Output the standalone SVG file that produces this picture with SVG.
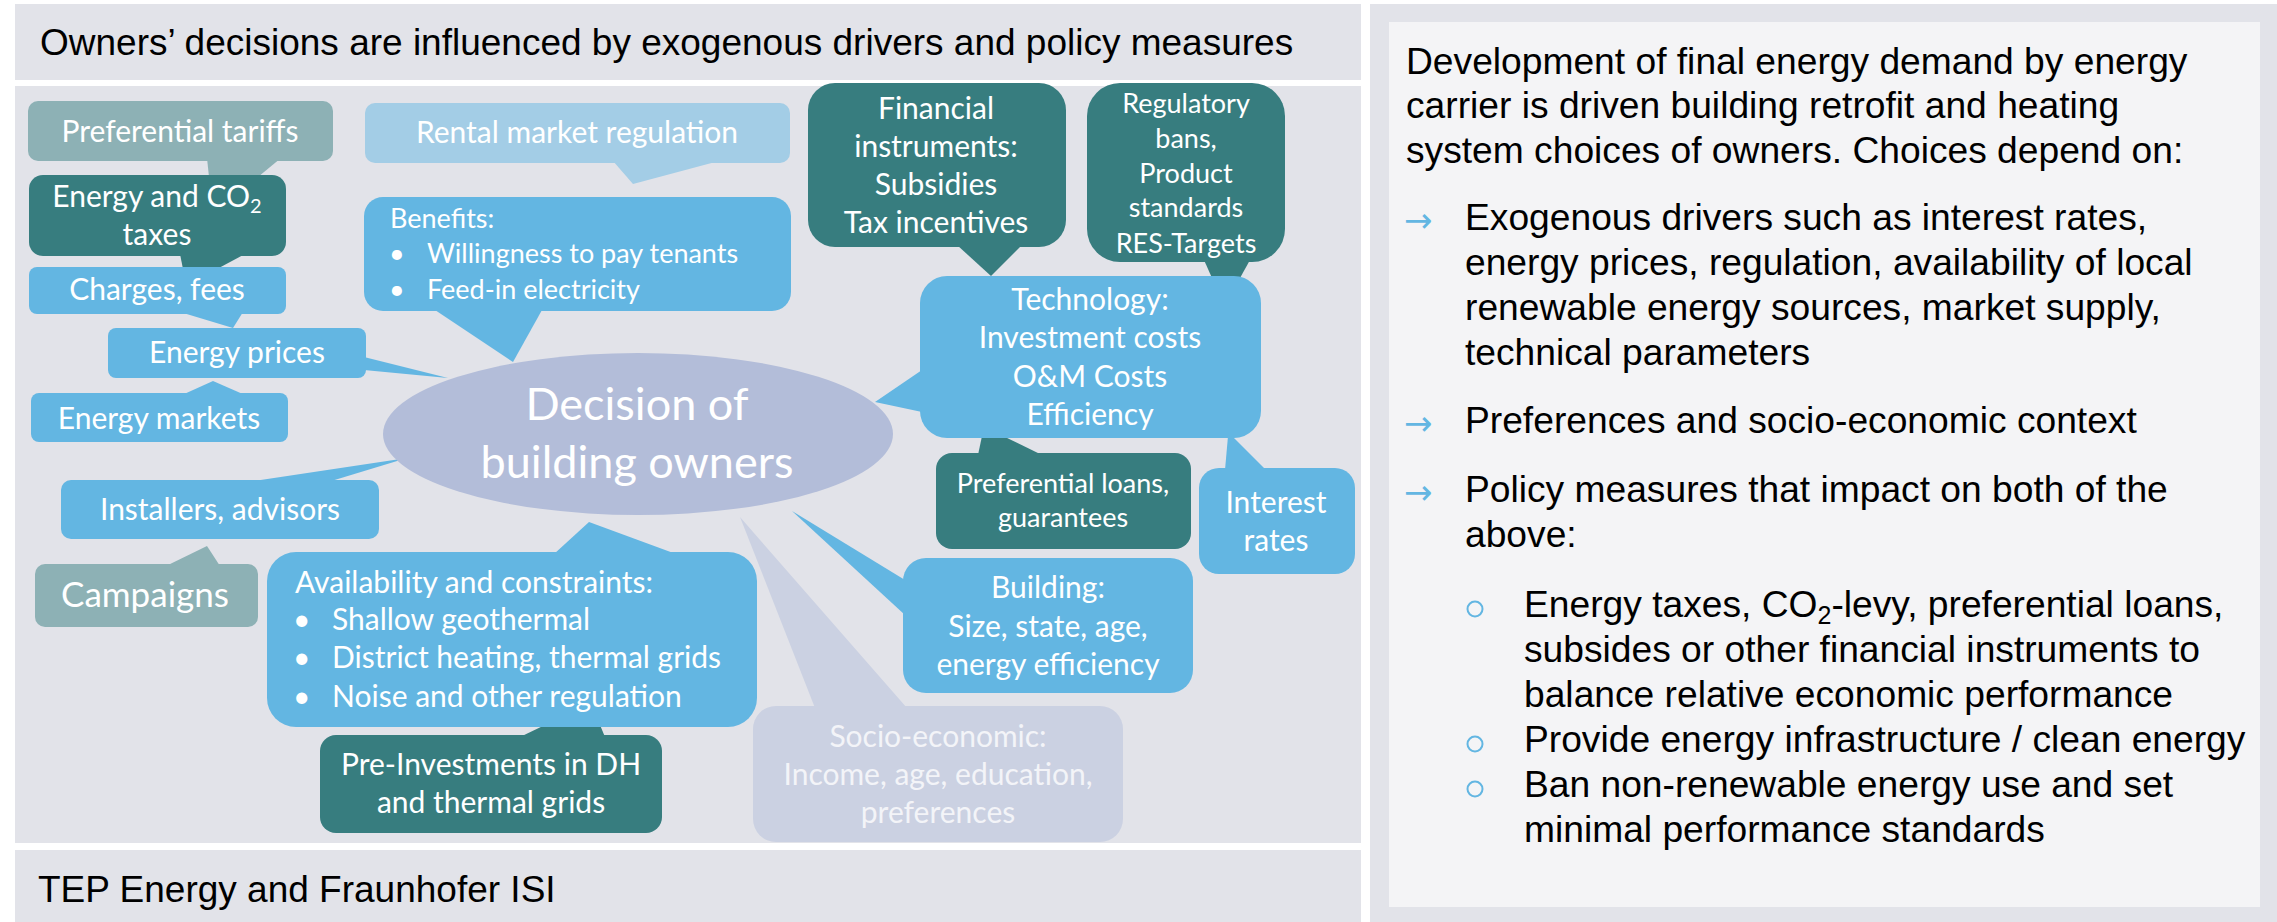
<svg xmlns="http://www.w3.org/2000/svg" width="2277" height="922" viewBox="0 0 2277 922">
<style>
.bg{fill:#E2E3E9}
.lb{fill:#63B6E2}
.dt{fill:#377D7F}
.gt{fill:#8DB1B5}
.rb{fill:#A3CDE6}
.so{fill:#CBD1E2}
.el{fill:#B3BDD9}
.bt{font-family:Lato,'Noto Sans',sans-serif;font-size:30px;fill:#FFFFFF;text-anchor:middle}
.bs{font-family:Lato,'Noto Sans',sans-serif;font-size:27px;fill:#FFFFFF;text-anchor:middle}
.big{font-family:Lato,'Noto Sans',sans-serif;font-size:45px;fill:#FFFFFF;text-anchor:middle}
.cmp{font-family:Lato,'Noto Sans',sans-serif;font-size:35px;fill:#FFFFFF;text-anchor:middle}
.bl{font-family:Lato,'Noto Sans',sans-serif;font-size:30px;fill:#FFFFFF}
.bls{font-family:Lato,'Noto Sans',sans-serif;font-size:27px;fill:#FFFFFF}
.st{font-family:Lato,'Noto Sans',sans-serif;font-size:30px;fill:#F3F4F8;text-anchor:middle}
.ar{font-family:'Liberation Sans',Arial,sans-serif;font-size:37px;fill:#000000}
.rp{font-family:'Liberation Sans',Arial,sans-serif;font-size:37.2px;fill:#000000}
.arw{font-family:'DejaVu Sans',sans-serif;font-size:34px;fill:#63B6E2}
.sb{fill:none;stroke:#63B6E2;stroke-width:2}
</style>
<rect x="0" y="0" width="2277" height="922" fill="#FFFFFF"/>
<g id="left-panel">
<rect class="bg" x="15" y="4" width="1346" height="76"/>
<text class="ar" x="40" y="55">Owners’ decisions are influenced by exogenous drivers and policy measures</text>
<rect class="bg" x="15" y="86" width="1346" height="757"/>
<rect class="bg" x="15" y="850" width="1346" height="72"/>
<text class="ar" x="38" y="902">TEP Energy and Fraunhofer ISI</text>
</g>
<g id="right-panel">
<rect class="bg" x="1370" y="4" width="907" height="918"/>
<rect x="1389" y="22" width="871" height="885" fill="#F4F4F6"/>
<text class="rp" x="1406" y="74">Development of final energy demand by energy</text>
<text class="rp" x="1406" y="118">carrier is driven building retrofit and heating</text>
<text class="rp" x="1406" y="163">system choices of owners. Choices depend on:</text>
<text class="arw" x="1404" y="232">→</text>
<text class="rp" x="1465" y="230">Exogenous drivers such as interest rates,</text>
<text class="rp" x="1465" y="275">energy prices, regulation, availability of local</text>
<text class="rp" x="1465" y="320">renewable energy sources, market supply,</text>
<text class="rp" x="1465" y="365">technical parameters</text>
<text class="arw" x="1404" y="435">→</text>
<text class="rp" x="1465" y="433">Preferences and socio-economic context</text>
<text class="arw" x="1404" y="504">→</text>
<text class="rp" x="1465" y="502">Policy measures that impact on both of the</text>
<text class="rp" x="1465" y="547">above:</text>
<circle class="sb" cx="1475" cy="609" r="7.5"/>
<text class="rp" x="1524" y="617">Energy taxes, CO<tspan font-size="25" dy="7">2</tspan><tspan dy="-7">-levy, preferential loans,</tspan></text>
<text class="rp" x="1524" y="662">subsides or other financial instruments to</text>
<text class="rp" x="1524" y="707">balance relative economic performance</text>
<circle class="sb" cx="1475" cy="744" r="7.5"/>
<text class="rp" x="1524" y="752">Provide energy infrastructure / clean energy</text>
<circle class="sb" cx="1475" cy="789" r="7.5"/>
<text class="rp" x="1524" y="797">Ban non-renewable energy use and set</text>
<text class="rp" x="1524" y="842">minimal performance standards</text>
</g>
<g id="connectors">
<polygon class="gt" points="207,158 281,158 258,177 209,177"/>
<polygon class="dt" points="180,254 245,254 217,269 183,269"/>
<polygon class="lb" points="180,312 243,312 233,328"/>
<polygon class="lb" points="182,395 213,381 245,395"/>
<polygon class="lb" points="364,357 448,378 364,370"/>
<polygon class="rb" points="613,161 633,184 719,161"/>
<polygon class="lb" points="435,310 513,362 542,310"/>
<polygon class="lb" points="247,482 407,458 328,482"/>
<polygon class="gt" points="166,566 207,546 220,566"/>
<polygon class="lb" points="554,554 589,522 676,554"/>
<polygon class="dt" points="520,737 545,725 600,725 605,737"/>
<polygon class="dt" points="957,245 991,276 1022,245"/>
<polygon class="dt" points="1204,260 1250,260 1240,278 1212,278"/>
<polygon class="lb" points="922,370 875,402 922,412"/>
<polygon class="dt" points="978,455 982,436 1003,436 1042,455"/>
<polygon class="lb" points="1225,470 1228,436 1232,436 1266,470"/>
<polygon class="lb" points="905,580 792,511 905,615"/>
<polygon class="so" points="815,708 740,517 907,708"/>
</g>
<g id="decision">
<ellipse class="el" cx="638" cy="434" rx="255" ry="81"/>
<text class="big" x="637" y="420">Decision of</text>
<text class="big" x="637" y="478">building owners</text>
</g>
<g id="preferential-tariffs">
<rect class="gt" x="28" y="101" width="305" height="60" rx="10"/>
<text class="bt" x="180" y="142">Preferential tariffs</text>
</g>
<g id="rental-market">
<rect class="rb" x="365" y="103" width="425" height="60" rx="10"/>
<text class="bt" x="577" y="143">Rental market regulation</text>
</g>
<g id="energy-co2-taxes">
<rect class="dt" x="29" y="175" width="257" height="81" rx="14"/>
<text class="bt" x="157" y="207">Energy and CO<tspan font-size="20" dy="6">2</tspan></text>
<text class="bt" x="157" y="245">taxes</text>
</g>
<g id="charges-fees">
<rect class="lb" x="29" y="267" width="257" height="47" rx="8"/>
<text class="bt" x="157" y="300">Charges, fees</text>
</g>
<g id="energy-prices">
<rect class="lb" x="108" y="328" width="258" height="50" rx="8"/>
<text class="bt" x="237" y="363">Energy prices</text>
</g>
<g id="energy-markets">
<rect class="lb" x="31" y="393" width="257" height="49" rx="8"/>
<text class="bt" x="159" y="429">Energy markets</text>
</g>
<g id="installers">
<rect class="lb" x="61" y="480" width="318" height="59" rx="10"/>
<text class="bt" x="220" y="520">Installers, advisors</text>
</g>
<g id="campaigns">
<rect class="gt" x="35" y="564" width="223" height="63" rx="10"/>
<text class="cmp" x="145" y="607">Campaigns</text>
</g>
<g id="availability">
<rect class="lb" x="267" y="552" width="490" height="175" rx="29"/>
<text class="bl" x="295" y="593">Availability and constraints:</text>
<text class="bl" x="293" y="630">•</text>
<text class="bl" x="332" y="630">Shallow geothermal</text>
<text class="bl" x="293" y="668">•</text>
<text class="bl" x="332" y="668">District heating, thermal grids</text>
<text class="bl" x="293" y="707">•</text>
<text class="bl" x="332" y="707">Noise and other regulation</text>
</g>
<g id="pre-investments">
<rect class="dt" x="320" y="735" width="342" height="98" rx="16"/>
<text class="bt" x="491" y="775">Pre-Investments in DH</text>
<text class="bt" x="491" y="813">and thermal grids</text>
</g>
<g id="benefits">
<rect class="lb" x="364" y="197" width="427" height="114" rx="19"/>
<text class="bls" x="390" y="228">Benefits:</text>
<text class="bls" x="389" y="263">•</text>
<text class="bls" x="427" y="263">Willingness to pay tenants</text>
<text class="bls" x="389" y="299">•</text>
<text class="bls" x="427" y="299">Feed-in electricity</text>
</g>
<g id="financial-instruments">
<rect class="dt" x="808" y="83" width="258" height="164" rx="27"/>
<text class="bt" x="936" y="119">Financial</text>
<text class="bt" x="936" y="157">instruments:</text>
<text class="bt" x="936" y="195">Subsidies</text>
<text class="bt" x="936" y="233">Tax incentives</text>
</g>
<g id="regulatory">
<rect class="dt" x="1087" y="83" width="198" height="179" rx="33"/>
<text class="bs" x="1186" y="113">Regulatory</text>
<text class="bs" x="1186" y="148">bans,</text>
<text class="bs" x="1186" y="183">Product</text>
<text class="bs" x="1186" y="217">standards</text>
<text class="bs" x="1186" y="253">RES-Targets</text>
</g>
<g id="technology">
<rect class="lb" x="920" y="276" width="341" height="162" rx="27"/>
<text class="bt" x="1090" y="310">Technology:</text>
<text class="bt" x="1090" y="348">Investment costs</text>
<text class="bt" x="1090" y="387">O&amp;M Costs</text>
<text class="bt" x="1090" y="425">Efficiency</text>
</g>
<g id="preferential-loans">
<rect class="dt" x="936" y="453" width="255" height="96" rx="16"/>
<text class="bs" x="1063" y="493">Preferential loans,</text>
<text class="bs" x="1063" y="527">guarantees</text>
</g>
<g id="interest-rates">
<rect class="lb" x="1199" y="468" width="156" height="106" rx="20"/>
<text class="bt" x="1276" y="513">Interest</text>
<text class="bt" x="1276" y="551">rates</text>
</g>
<g id="building">
<rect class="lb" x="903" y="558" width="290" height="135" rx="23"/>
<text class="bt" x="1048" y="598">Building:</text>
<text class="bt" x="1048" y="637">Size, state, age,</text>
<text class="bt" x="1048" y="675">energy efficiency</text>
</g>
<g id="socio-economic">
<rect class="so" x="753" y="706" width="370" height="136" rx="23"/>
<text class="st" x="938" y="747">Socio-economic:</text>
<text class="st" x="938" y="785">Income, age, education,</text>
<text class="st" x="938" y="823">preferences</text>
</g>
</svg>
